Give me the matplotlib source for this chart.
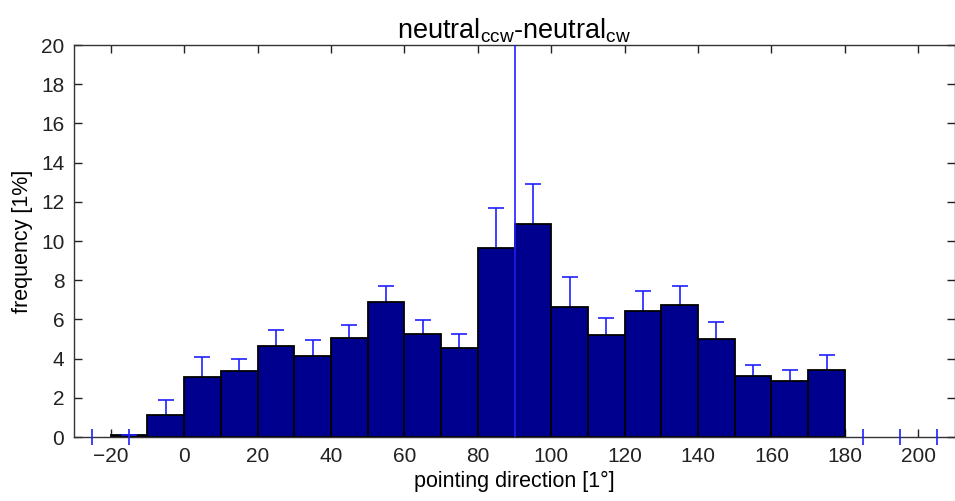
import matplotlib.pyplot as plt

plt.rcParams['font.family'] = ['Liberation Sans', 'DejaVu Sans']

# bin centres (10 deg wide bins) and frequencies in %
centers = [-15, -5, 5, 15, 25, 35, 45, 55, 65, 75, 85, 95,
           105, 115, 125, 135, 145, 155, 165, 175]
freq = [0.08, 1.12, 3.06, 3.36, 4.63, 4.12, 5.03, 6.88, 5.25, 4.52,
        9.64, 10.88, 6.63, 5.2, 6.43, 6.74, 5.0, 3.1, 2.86, 3.41]
err = [0.0, 0.75, 1.03, 0.64, 0.82, 0.83, 0.67, 0.85, 0.7, 0.73,
       2.05, 2.03, 1.52, 0.85, 1.02, 0.95, 0.85, 0.6, 0.54, 0.8]

# empty bins drawn as small error marks around zero
empty_x = [-25, -15, 185, 195, 205]
empty_err = [0.4, 0.4, 0.4, 0.4, 0.4]

# the long spike at 90 deg
spike_x = [90]
spike_top = [20]

bar_color = '#00008F'
err_color = '#2020FF'

fig = plt.figure(figsize=(9.55, 5.01), dpi=100)
ax = fig.add_axes([0.0775, 0.1277, 0.9225, 0.7823])

ax.bar(centers, freq, width=10, color=bar_color, edgecolor='black',
       linewidth=1.3, zorder=2)

# symmetric error bars, lower half hidden behind the bars
ax.errorbar(centers[1:], freq[1:], yerr=err[1:], fmt='none',
            ecolor=err_color, elinewidth=1.2, capsize=6, capthick=1.2,
            zorder=1)
# cap sitting on the tiny first bar
ax.plot([centers[0] - 2, centers[0] + 2], [freq[0], freq[0]],
        color=err_color, linewidth=1.2, zorder=3)
ax.errorbar(empty_x, [0] * len(empty_x), yerr=empty_err, fmt='none',
            ecolor=err_color, elinewidth=1.2, capsize=0, zorder=3,
            clip_on=False)
ax.vlines(spike_x, 0, spike_top, colors=err_color, linewidth=1.2, zorder=3)

ax.set_xlim(-30, 210)
ax.set_ylim(0, 20)
ax.set_xticks(range(-20, 201, 20))
ax.set_yticks(range(0, 21, 2))
ax.tick_params(direction='in', length=6, width=1, top=True, right=True,
               labelsize=15, colors='#222222', pad=7)
for sp in ax.spines.values():
    sp.set_color('#333333')
    sp.set_linewidth(1)

ax.set_xlabel('pointing direction [1°]', fontsize=15.5, labelpad=4)
ax.set_ylabel('frequency [1%]', fontsize=15.5, labelpad=6)
ax.set_title(r'neutral$_{\mathregular{ccw}}$-neutral$_{\mathregular{cw}}$',
             fontsize=19.5, pad=5)

fig.savefig('out.png', dpi=100)
